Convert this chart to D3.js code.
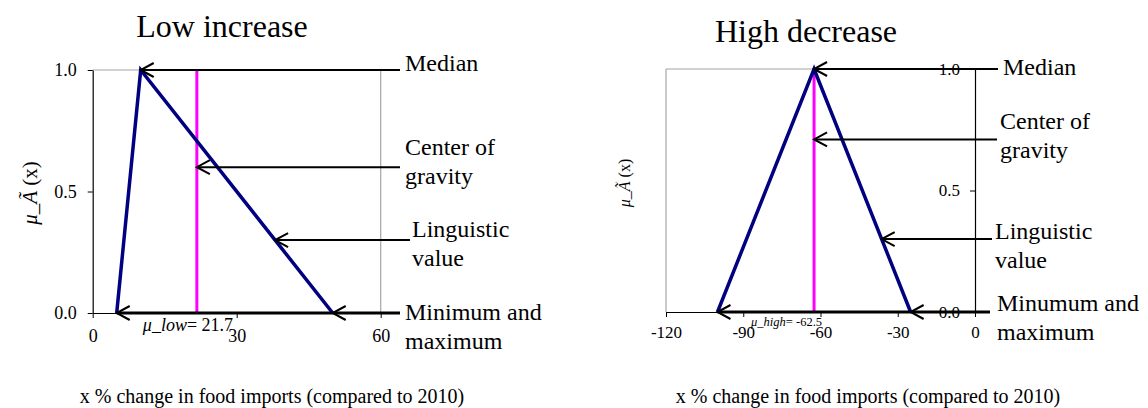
<!DOCTYPE html>
<html>
<head>
<meta charset="utf-8">
<script src="https://cdn.jsdelivr.net/npm/d3@7"></script>
<style>
  body { margin: 0; background: #fff; }
  svg { font-family: "Liberation Serif", "Times New Roman", serif; }
</style>
</head>
<body>
<svg id="draw" width="1148" height="408"></svg>
<script>
// membership functions (x in %, mu in 0..1)
const lowX = [5, 10, 50];
const lowMu = [0, 1, 0];
const highX = [-100, -62.5, -25];
const highMu = [0, 1, 0];

const lowCentroid = 21.7;
const highCentroid = -62.5;

const lowXTicks = [0, 30, 60];
const highXTicks = [-120, -90, -60, -30, 0];
const muTicks = [0, 0.5, 1];

// arrows: level (mu) and where the head points (x)
const lowArrowMu = [1, 0.6, 0.3, 0];
const lowArrowX = [10, 21.7, 38, 5];
const highArrowMu = [1, 0.71, 0.3, 0];
const highArrowX = [-62.5, -62.5, -36.25, -100];

const lowLabels = [["Median"], ["Center of", "gravity"], ["Linguistic", "value"], ["Minimum and", "maximum"]];
const highLabels = [["Median"], ["Center of", "gravity"], ["Linguistic", "value"], ["Minumum and", "maximum"]];

const xTitle = "x % change in food imports (compared to 2010)";

const svg = d3.select("#draw");
const serif = "'Liberation Serif', 'Times New Roman', serif";

function drawPanel(c) {
  var x = d3.scaleLinear().domain(c.xDomain).range([c.left, c.right]);
  var y = d3.scaleLinear().domain([0, 1]).range([c.bottom, c.top]);
  var g = svg.append("g");

  // grey frame sides
  g.append("line")
    .attr("x1", c.left).attr("x2", c.right)
    .attr("y1", c.top).attr("y2", c.top)
    .attr("stroke", "#a6a6a6").attr("stroke-width", 1.2);
  var fx = c.yAxisRight ? c.left : c.right;
  g.append("line")
    .attr("x1", fx).attr("x2", fx)
    .attr("y1", c.top).attr("y2", c.bottom)
    .attr("stroke", "#a6a6a6").attr("stroke-width", 1.2);

  // y axis
  var ya = g.append("g")
    .attr("transform", "translate(" + (c.yAxisRight ? c.right : c.left) + ",0)")
    .call(d3.axisLeft(y).tickValues(muTicks).tickFormat(d3.format(".1f"))
      .tickSize(5).tickSizeOuter(0).tickPadding(c.yPad));
  ya.attr("font-family", serif);
  ya.selectAll("text").style("font-size", c.tickFont + "px").attr("fill", "#000");

  // x axis
  var xa = g.append("g")
    .attr("transform", "translate(0," + c.bottom + ")")
    .call(d3.axisBottom(x).tickValues(c.xTicks).tickFormat(d => String(d))
      .tickSize(5).tickSizeOuter(0).tickPadding(c.xPad));
  xa.attr("font-family", serif);
  xa.selectAll("text").style("font-size", c.tickFont + "px").attr("fill", "#000");
  g.selectAll(".domain").attr("stroke", "#000").attr("stroke-width", 1.2);

  // centroid line
  g.append("line")
    .attr("x1", x(c.centroid)).attr("x2", x(c.centroid))
    .attr("y1", y(1)).attr("y2", y(0))
    .attr("stroke", "#ff00ff").attr("stroke-width", 3);

  // triangle
  var line = d3.line().x(d => x(d[0])).y(d => y(d[1]));
  g.append("path")
    .attr("d", line(d3.zip(c.xs, c.mus)))
    .attr("fill", "none")
    .attr("stroke", "#000080")
    .attr("stroke-width", 3.5)
    .attr("stroke-linejoin", "miter");

  // arrows
  function head(px, py) {
    g.append("path")
      .attr("d", "M" + (px + 13) + "," + (py - 7) + "L" + px + "," + py + "L" + (px + 13) + "," + (py + 7))
      .attr("fill", "none").attr("stroke", "#000").attr("stroke-width", 2);
  }
  c.arrowMu.forEach(function(m, i) {
    var py = y(m), px = x(c.arrowX[i]);
    g.append("line")
      .attr("x1", px).attr("x2", c.tails[i])
      .attr("y1", py).attr("y2", py)
      .attr("stroke", "#000").attr("stroke-width", i == 3 ? 3 : 2);
    head(px, py);
  });
  // second head on min/max line
  head(x(c.xs[2]), y(0));

  // labels
  c.labels.forEach(function(lines, i) {
    lines.forEach(function(t, j) {
      g.append("text")
        .attr("x", c.labelX[i]).attr("y", c.labelY[i] + j * 29)
        .style("font-size", "24px")
        .text(t);
    });
  });

  // title
  g.append("text")
    .attr("x", c.titleX).attr("y", c.titleY)
    .attr("text-anchor", "middle")
    .style("font-size", "32px")
    .text(c.title);

  // x title
  g.append("text")
    .attr("x", c.xTitleX).attr("y", 403)
    .attr("text-anchor", "middle")
    .style("font-size", "20px")
    .text(xTitle);

  // y title
  var yt = g.append("text")
    .attr("transform", "translate(" + c.yTitleX + "," + c.yTitleY + ") rotate(-90)")
    .attr("text-anchor", "middle")
    .style("font-size", c.yTitleFont + "px");
  yt.append("tspan").style("font-style", "italic").text("μ_Ã");
  yt.append("tspan").text(" (x)");

  // centroid value
  var ct = g.append("text")
    .attr("x", x(c.centroid) + c.muOffset).attr("y", c.muY)
    .style("font-size", c.muFont + "px");
  ct.append("tspan").style("font-style", "italic").text(c.muName);
  ct.append("tspan").text("= " + c.centroid);
}

drawPanel({
  xDomain: [0, 60], left: 92.7, right: 380.7, top: 70, bottom: 313,
  xTicks: lowXTicks, xs: lowX, mus: lowMu, centroid: lowCentroid,
  arrowMu: lowArrowMu, arrowX: lowArrowX, tails: [400, 400, 410, 400],
  labels: lowLabels, labelX: [405, 405, 412, 405], labelY: [71, 155, 237, 320],
  title: "Low increase", titleX: 222, titleY: 37,
  xTitleX: 272, yTitleX: 37, yTitleY: 193, yTitleFont: 21,
  tickFont: 18, yPad: 11, xPad: 11,
  muName: "μ_low", muOffset: -54, muY: 331, muFont: 18,
  yAxisRight: false
});

drawPanel({
  xDomain: [-120, 0], left: 666, right: 975, top: 69, bottom: 312,
  xTicks: highXTicks, xs: highX, mus: highMu, centroid: highCentroid,
  arrowMu: highArrowMu, arrowX: highArrowX, tails: [998, 997, 992, 990],
  labels: highLabels, labelX: [1003, 1000, 995, 997], labelY: [75, 129, 239, 311],
  title: "High decrease", titleX: 806, titleY: 42,
  xTitleX: 868, yTitleX: 630, yTitleY: 183, yTitleFont: 16,
  tickFont: 17, yPad: 10, xPad: 9,
  muName: "μ_high", muOffset: -63, muY: 326, muFont: 12.5,
  yAxisRight: true
});
</script>
</body>
</html>
